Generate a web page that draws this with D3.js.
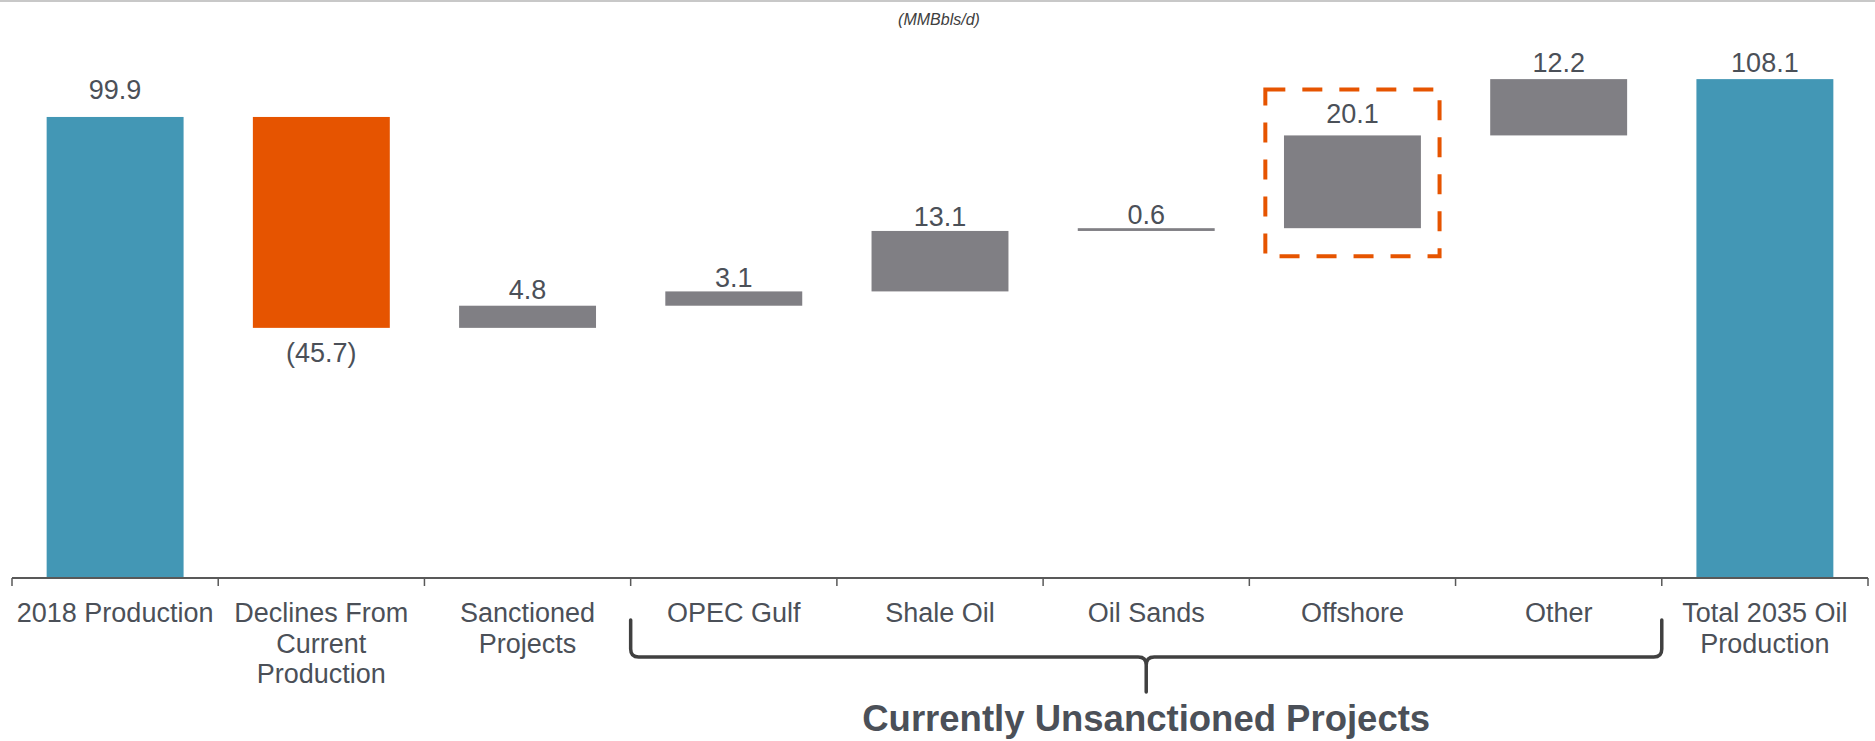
<!DOCTYPE html>
<html>
<head>
<meta charset="utf-8">
<script src="https://cdn.jsdelivr.net/npm/d3@7"></script>
<style>
  html, body { margin: 0; padding: 0; background: #ffffff; }
  svg { display: block; }
</style>
</head>
<body>
<svg id="chart" width="1875" height="741"></svg>
<script>
// ---- data ----
const categories = [
  "2018 Production",
  "Declines From\nCurrent\nProduction",
  "Sanctioned\nProjects",
  "OPEC Gulf",
  "Shale Oil",
  "Oil Sands",
  "Offshore",
  "Other",
  "Total 2035 Oil\nProduction"
];
const values = [99.9, -45.7, 4.8, 3.1, 13.1, 0.6, 20.1, 12.2, 108.1];
const kinds = ["total", "decline", "increase", "increase", "increase", "increase", "increase", "increase", "total"];
const valueLabels = ["99.9", "(45.7)", "4.8", "3.1", "13.1", "0.6", "20.1", "12.2", "108.1"];
const unitLabel = "(MMBbls/d)";
const groupLabel = "Currently Unsanctioned Projects";
const groupRange = ["OPEC Gulf", "Other"];
const highlighted = "Offshore";

// ---- styling: gap (px) between value label baseline and bar edge, as placed in the original ----
const labelGap = [18, 34, 7, 4, 5, 4, 12, 7.5, 7.5];

// ---- waterfall ----
let running = 0;
const bars = categories.map((c, i) => {
  let lo, hi;
  if (kinds[i] === "total") { lo = 0; hi = values[i]; running = values[i]; }
  else { const start = running; running += values[i]; lo = Math.min(start, running); hi = Math.max(start, running); }
  return { cat: c, kind: kinds[i], lo, hi, label: valueLabels[i], gap: labelGap[i] };
});

const colors = { total: "#4397B5", decline: "#E65400", increase: "#807F84" };
const textColor = "#4B5058";

const svg = d3.select("#chart");
const x = d3.scaleBand().domain(categories).range([12, 1868]).paddingInner(0).paddingOuter(0);
const y = d3.scaleLinear().domain([0, 120]).range([578, 578 - 120 * 4.615]);
const bw = x.bandwidth() * 0.664;
const bx = c => x(c) + (x.bandwidth() - bw) / 2;

// top rule
svg.append("line").attr("x1", 0).attr("x2", 1875).attr("y1", 1).attr("y2", 1)
  .attr("stroke", "#c8c8c8").attr("stroke-width", 2);

// unit label
svg.append("text").attr("x", 939).attr("y", 25).attr("text-anchor", "middle")
  .attr("font-family", "Liberation Sans, Arial, sans-serif").attr("font-style", "italic")
  .attr("font-size", 16).attr("fill", "#404040").text(unitLabel);

// bars
svg.append("g").selectAll("rect").data(bars).join("rect")
  .attr("x", d => bx(d.cat))
  .attr("width", bw)
  .attr("y", d => y(d.hi))
  .attr("height", d => Math.max(2, y(d.lo) - y(d.hi)))
  .attr("fill", d => colors[d.kind]);

// value labels
svg.append("g").selectAll("text").data(bars).join("text")
  .attr("x", d => x(d.cat) + x.bandwidth() / 2)
  .attr("y", d => d.kind === "decline" ? y(d.lo) + d.gap : y(d.hi) - d.gap)
  .attr("text-anchor", "middle")
  .attr("font-family", "Liberation Sans, Arial, sans-serif")
  .attr("font-size", 27).attr("fill", textColor)
  .text(d => d.label);

// highlight dashed box around Offshore
const hb = bars.find(b => b.cat === highlighted);
svg.append("rect")
  .attr("x", x(highlighted) + 16).attr("width", x.bandwidth() - 32)
  .attr("y", y(hb.hi) - 46).attr("height", (y(hb.lo) + 28) - (y(hb.hi) - 46))
  .attr("fill", "none").attr("stroke", "#E65400").attr("stroke-width", 4)
  .attr("stroke-dasharray", "20,17");

// axis line and ticks at band boundaries
const axisG = svg.append("g");
axisG.append("line").attr("x1", x.range()[0]).attr("x2", x.range()[1])
  .attr("y1", 578).attr("y2", 578).attr("stroke", "#595959").attr("stroke-width", 2);
const boundaries = categories.map(c => x(c)).concat([x.range()[1]]);
axisG.selectAll("line.tick").data(boundaries).join("line").attr("class", "tick")
  .attr("x1", d => d).attr("x2", d => d).attr("y1", 578).attr("y2", 586)
  .attr("stroke", "#595959").attr("stroke-width", 1.5);

// category labels
const lab = svg.append("g").selectAll("text").data(categories).join("text")
  .attr("x", c => x(c) + x.bandwidth() / 2)
  .attr("y", 622)
  .attr("text-anchor", "middle")
  .attr("font-family", "Liberation Sans, Arial, sans-serif")
  .attr("font-size", 27).attr("fill", textColor);
lab.each(function(c) {
  const lines = c.split("\n");
  const t = d3.select(this);
  lines.forEach((ln, i) => {
    t.append("tspan").attr("x", x(c) + x.bandwidth() / 2).attr("dy", i === 0 ? 0 : 30.5).text(ln);
  });
});

// brace under unsanctioned group
const x0 = x(groupRange[0]);
const x1 = x(groupRange[1]) + x.bandwidth();
const xm = (x0 + x1) / 2;
const yTop = 620, yH = 657, yTip = 692, r = 8;
const p = d3.path();
p.moveTo(x0, yTop); p.lineTo(x0, yH - r); p.quadraticCurveTo(x0, yH, x0 + r, yH);
p.lineTo(xm - r, yH); p.quadraticCurveTo(xm, yH, xm, yH + r); p.lineTo(xm, yTip);
p.moveTo(xm, yH + r); p.quadraticCurveTo(xm, yH, xm + r, yH);
p.lineTo(x1 - r, yH); p.quadraticCurveTo(x1, yH, x1, yH - r); p.lineTo(x1, yTop);
svg.append("path").attr("d", p.toString()).attr("fill", "none")
  .attr("stroke", "#404040").attr("stroke-width", 3.5).attr("stroke-linecap", "round");

svg.append("text").attr("x", xm).attr("y", 731).attr("text-anchor", "middle")
  .attr("font-family", "Liberation Sans, Arial, sans-serif").attr("font-weight", "bold")
  .attr("font-size", 36.5).attr("fill", textColor).text(groupLabel);
</script>
</body>
</html>
